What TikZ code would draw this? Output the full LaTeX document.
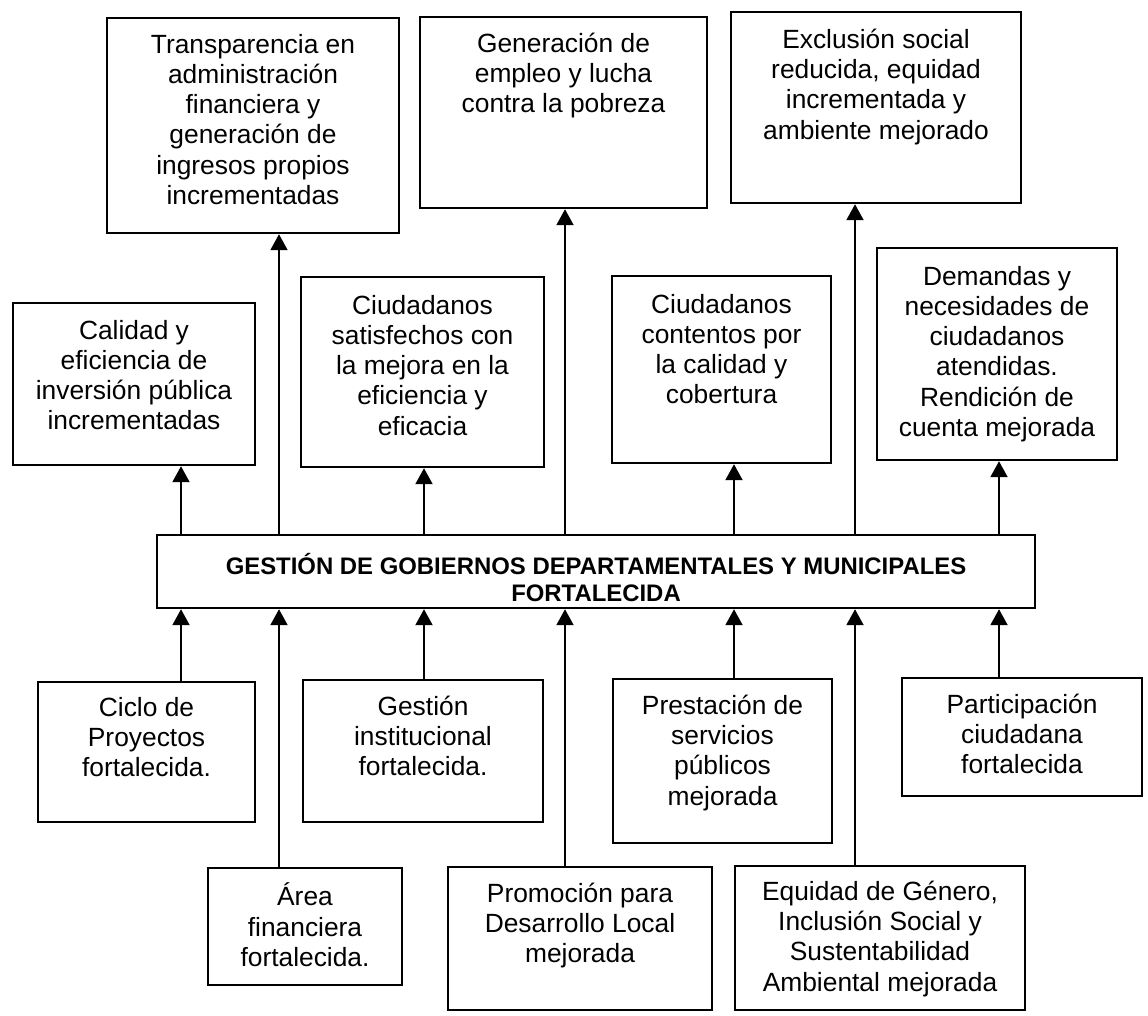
\documentclass[tikz,border=0pt]{standalone}
\usepackage{fontspec}
\setmainfont{Liberation Sans}
\usetikzlibrary{positioning,arrows.meta}

\begin{document}
\begin{tikzpicture}[
        caja/.style = {rectangle, draw, line width=1.4pt, inner sep=0pt},
        texto/.style = {align=center, inner sep=0pt, font=\fontsize{15}{17.2}\selectfont},
        flecha/.style = {line width=1.2pt, -{Triangle[length=0.32cm, width=0.34cm]}}
    ]
            \useasboundingbox (0, 0) rectangle (22.96, -20.30);

            % fines
            \node[caja, minimum width=5.84cm, minimum height=4.30cm] (trans) at (5.06, -2.51) {};
            \node[caja, minimum width=5.74cm, minimum height=3.82cm] (empleo) at (11.27, -2.25) {};
            \node[caja, minimum width=5.80cm, minimum height=3.82cm] (exclu) at (17.52, -2.15) {};

            \node[texto, below=0.34cm of trans.north] {Transparencia en\\administración\\financiera y\\generación de\\ingresos propios\\incrementadas};
            \node[texto, below=0.34cm of empleo.north] {Generación de\\empleo y lucha\\contra la pobreza};
            \node[texto, below=0.36cm of exclu.north] {Exclusión social\\reducida, equidad\\incrementada y\\ambiente mejorado};

            % resultados
            \node[caja, minimum width=4.84cm, minimum height=3.24cm] (calidad) at (2.68, -7.68) {};
            \node[caja, minimum width=4.86cm, minimum height=3.80cm] (satisf) at (8.45, -7.44) {};
            \node[caja, minimum width=4.38cm, minimum height=3.74cm] (contentos) at (14.43, -7.39) {};
            \node[caja, minimum width=4.80cm, minimum height=4.24cm] (demandas) at (19.94, -7.08) {};

            \node[texto, below=0.36cm of calidad.north] {Calidad y\\eficiencia de\\inversión pública\\incrementadas};
            \node[texto, below=0.38cm of satisf.north] {Ciudadanos\\satisfechos con\\la mejora en la\\eficiencia y\\eficacia};
            \node[texto, below=0.38cm of contentos.north] {Ciudadanos\\contentos por\\la calidad y\\cobertura};
            \node[texto, below=0.38cm of demandas.north] {Demandas y\\necesidades de\\ciudadanos\\atendidas.\\Rendición de\\cuenta mejorada};

            % proposito
            \node[caja, minimum width=17.56cm, minimum height=1.46cm] (gestion) at (11.92, -11.43) {};
            \node[texto, font=\fontsize{13.6}{15.6}\selectfont\bfseries, below=0.38cm of gestion.north] {GESTIÓN DE GOBIERNOS DEPARTAMENTALES Y MUNICIPALES\\FORTALECIDA};

            % componentes
            \node[caja, minimum width=4.34cm, minimum height=2.80cm] (ciclo) at (2.93, -15.04) {};
            \node[caja, minimum width=4.80cm, minimum height=2.84cm] (instit) at (8.46, -15.02) {};
            \node[caja, minimum width=4.38cm, minimum height=3.28cm] (prest) at (14.45, -15.22) {};
            \node[caja, minimum width=4.80cm, minimum height=2.36cm] (partic) at (20.44, -14.74) {};
            \node[caja, minimum width=3.88cm, minimum height=2.34cm] (area) at (6.10, -18.53) {};
            \node[caja, minimum width=5.28cm, minimum height=2.86cm] (promo) at (11.60, -18.77) {};
            \node[caja, minimum width=5.80cm, minimum height=2.88cm] (equidad) at (17.60, -18.76) {};

            \node[texto, below=0.32cm of ciclo.north] {Ciclo de\\Proyectos\\fortalecida.};
            \node[texto, below=0.34cm of instit.north] {Gestión\\institucional\\fortalecida.};
            \node[texto, below=0.34cm of prest.north] {Prestación de\\servicios\\públicos\\mejorada};
            \node[texto, below=0.34cm of partic.north] {Participación\\ciudadana\\fortalecida};
            \node[texto, below=0.32cm of area.north] {Área\\financiera\\fortalecida.};
            \node[texto, below=0.34cm of promo.north] {Promoción para\\Desarrollo Local\\mejorada};
            \node[texto, below=0.32cm of equidad.north] {Equidad de Género,\\Inclusión Social y\\Sustentabilidad\\Ambiental mejorada};

            % columnas de flechas
            \coordinate (k1) at (3.62, 0);
            \coordinate (k2) at (5.58, 0);
            \coordinate (k3) at (8.48, 0);
            \coordinate (k4) at (11.30, 0);
            \coordinate (k5) at (14.68, 0);
            \coordinate (k6) at (17.10, 0);
            \coordinate (k7) at (19.98, 0);

            \draw[flecha] (k1 |- gestion.north) -- (k1 |- calidad.south);
            \draw[flecha] (k2 |- gestion.north) -- (k2 |- trans.south);
            \draw[flecha] (k3 |- gestion.north) -- (k3 |- satisf.south);
            \draw[flecha] (k4 |- gestion.north) -- (k4 |- empleo.south);
            \draw[flecha] (k5 |- gestion.north) -- (k5 |- contentos.south);
            \draw[flecha] (k6 |- gestion.north) -- (k6 |- exclu.south);
            \draw[flecha] (k7 |- gestion.north) -- (k7 |- demandas.south);

            \draw[flecha] (k1 |- ciclo.north) -- (k1 |- gestion.south);
            \draw[flecha] (k2 |- area.north) -- (k2 |- gestion.south);
            \draw[flecha] (k3 |- instit.north) -- (k3 |- gestion.south);
            \draw[flecha] (k4 |- promo.north) -- (k4 |- gestion.south);
            \draw[flecha] (k5 |- prest.north) -- (k5 |- gestion.south);
            \draw[flecha] (k6 |- equidad.north) -- (k6 |- gestion.south);
            \draw[flecha] (k7 |- partic.north) -- (k7 |- gestion.south);

        \end{tikzpicture}
\end{document}
